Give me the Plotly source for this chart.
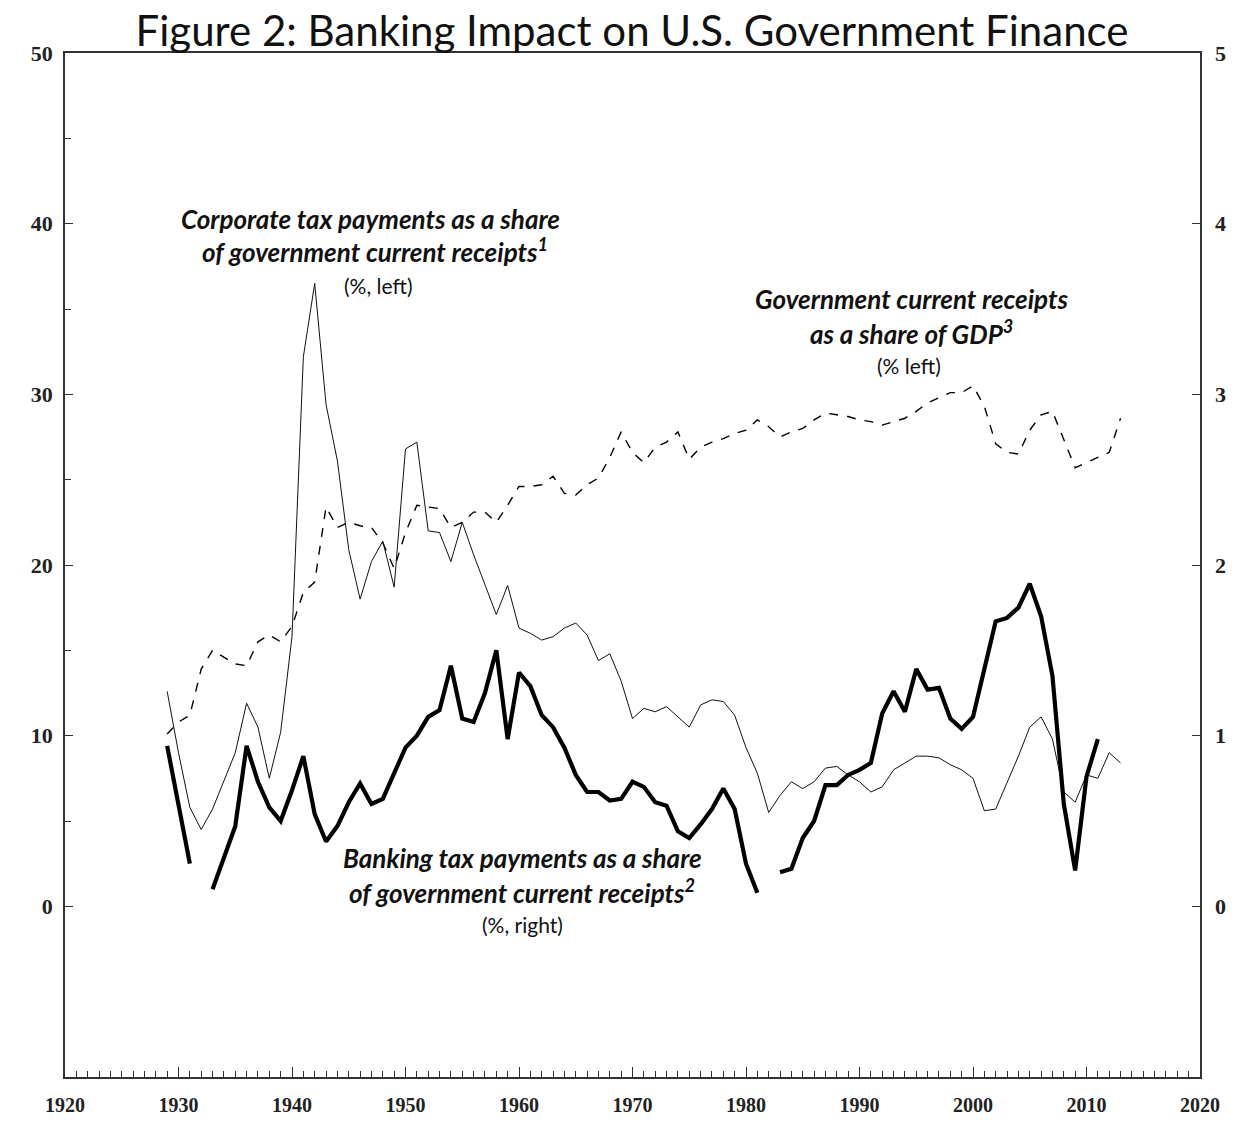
import plotly.graph_objects as go

years = list(range(1929, 2014))

corporate_tax_share = [
    12.6, 9.0, 5.8, 4.5, 5.7, 7.3, 9.0, 11.9, 10.5, 7.5,
    10.2, 15.8, 32.2, 36.5, 29.4, 26.1, 20.9, 18.0, 20.2, 21.4,
    18.7, 26.8, 27.2, 22.0, 21.9, 20.2, 22.5, 20.6, 18.9, 17.1,
    18.8, 16.3, 16.0, 15.6, 15.8, 16.3, 16.6, 15.9, 14.4, 14.8,
    13.2, 11.0, 11.6, 11.4, 11.7, 11.1, 10.5, 11.8, 12.1, 12.0,
    11.2, 9.3, 7.8, 5.5, 6.5, 7.3, 6.9, 7.3, 8.1, 8.2,
    7.7, 7.3, 6.7, 7.0, 8.0, 8.4, 8.8, 8.8, 8.7, 8.3,
    8.0, 7.5, 5.6, 5.7, 7.2, 8.8, 10.5, 11.1, 9.8, 6.7,
    6.1, 7.7, 7.5, 9.0, 8.4,
]

receipts_gdp = [
    10.1, 10.8, 11.2, 13.9, 15.0, 14.6, 14.2, 14.1, 15.5, 15.9,
    15.5, 16.4, 18.4, 19.0, 23.4, 22.2, 22.5, 22.3, 22.2, 21.3,
    19.8, 21.9, 23.5, 23.4, 23.3, 22.2, 22.5, 23.1, 23.1, 22.5,
    23.5, 24.6, 24.6, 24.7, 25.2, 24.2, 24.1, 24.7, 25.1, 26.3,
    27.8, 26.6, 26.0, 26.9, 27.2, 27.8, 26.2, 26.9, 27.2, 27.4,
    27.7, 27.9, 28.5, 28.1, 27.5, 27.8, 28.0, 28.5, 28.9, 28.8,
    28.7, 28.5, 28.4, 28.2, 28.4, 28.6, 29.0, 29.5, 29.8, 30.1,
    30.1, 30.5, 29.3, 27.1, 26.6, 26.5, 27.9, 28.8, 29.0, 27.4,
    25.7, 26.0, 26.3, 26.6, 28.6,
]

banking_tax_share = [
    0.94, 0.60, 0.25, None, 0.10, 0.29, 0.47, 0.94, 0.73, 0.58,
    0.50, 0.68, 0.88, 0.54, 0.38, 0.47, 0.61, 0.72, 0.60, 0.63,
    0.78, 0.93, 1.00, 1.11, 1.15, 1.41, 1.10, 1.08, 1.25, 1.50,
    0.98, 1.37, 1.29, 1.12, 1.05, 0.93, 0.77, 0.67, 0.67, 0.62,
    0.63, 0.73, 0.70, 0.61, 0.59, 0.44, 0.40, 0.48, 0.57, 0.69,
    0.57, 0.25, 0.08, None, 0.20, 0.22, 0.40, 0.50, 0.71, 0.71,
    0.77, 0.80, 0.84, 1.13, 1.26, 1.14, 1.39, 1.27, 1.28, 1.10,
    1.04, 1.11, 1.39, 1.67, 1.69, 1.75, 1.89, 1.70, 1.35, 0.60,
    0.21, 0.76, 0.98, None, None,
]

left_ticks = [0, 10, 20, 30, 40, 50]
left_minor_ticks = [5, 15, 25, 35, 45]
right_ticks = [0, 1, 2, 3, 4, 5]
x_ticks = list(range(1920, 2021, 10))

fig = go.Figure()

fig.add_trace(go.Scatter(
    x=years, y=receipts_gdp, mode="lines",
    line=dict(color="black", width=1.4, dash="dash"),
    name="Government current receipts as a share of GDP",
))
fig.add_trace(go.Scatter(
    x=years, y=corporate_tax_share, mode="lines",
    line=dict(color="#111", width=1.0),
    name="Corporate tax payments",
))
fig.add_trace(go.Scatter(
    x=years, y=banking_tax_share, mode="lines", yaxis="y2",
    line=dict(color="black", width=4.2),
    connectgaps=False,
    name="Banking tax payments",
))

tick_font = dict(family="Liberation Serif, DejaVu Serif, serif", size=22, color="#222", weight="bold")
xtick_font = dict(family="Liberation Serif, DejaVu Serif, serif", size=20, color="#222", weight="bold")

# page has an 8px body margin; figure size/margins compensate for it
W, H = 1223, 1108
fig.update_layout(
    width=W, height=H,
    margin=dict(l=57, r=31, t=45, b=39, autoexpand=False),
    paper_bgcolor="white", plot_bgcolor="white",
    showlegend=False,
    title=dict(
        text="Figure 2: Banking Impact on U.S. Government Finance",
        x=624 / W, xanchor="center", y=1 - 23 / H, yanchor="middle",
        font=dict(family="Lato, Open Sans, sans-serif", size=42, color="#111"),
    ),
    xaxis=dict(
        range=[1920, 2020], tickvals=x_ticks, ticks="inside", ticklen=10,
        tickwidth=1.2, tickcolor="#333", automargin=False,
        showline=True, linecolor="#333", linewidth=1.5, mirror=True,
        showgrid=False, zeroline=False, tickfont=xtick_font, ticklabelstandoff=9,
        minor=dict(dtick=1, ticks="inside", ticklen=6, tickwidth=1, tickcolor="#333", showgrid=False),
    ),
    yaxis=dict(
        range=[-10, 50], tickvals=left_ticks, ticks="inside", ticklen=8,
        tickwidth=1.2, tickcolor="#333", automargin=False,
        showline=True, linecolor="#333", linewidth=1.5, mirror=True,
        showgrid=False, zeroline=False, tickfont=tick_font, ticklabelstandoff=6,
        minor=dict(tickvals=left_minor_ticks, ticks="inside", ticklen=6, tickwidth=1,
                   tickcolor="#333", showgrid=False),
    ),
    yaxis2=dict(
        range=[-1, 5], tickvals=right_ticks, overlaying="y", side="right",
        ticks="inside", ticklen=8, tickwidth=1.2, tickcolor="#333", automargin=False,
        showline=False, showgrid=False, zeroline=False, tickfont=tick_font,
        ticklabelstandoff=14,
    ),
)

ann_bi = dict(family="Lato, Open Sans, sans-serif", size=26, color="#111", style="italic", weight="bold")
ann_r = dict(family="Lato, Open Sans, sans-serif", size=21, color="#111")

# (x year, y on left-axis scale, text, font)
annotations = [
    (1946.9, 40.3, "Corporate tax payments as a share", ann_bi),
    (1947.3, 38.4, "of government current receipts<sup>1</sup>", ann_bi),
    (1947.6, 36.4, "(%, left)", ann_r),
    (1994.6, 35.6, "Government current receipts", ann_bi),
    (1994.6, 33.6, "as a share of GDP<sup>3</sup>", ann_bi),
    (1994.4, 31.7, "(% left)", ann_r),
    (1960.3, 2.81, "Banking tax payments as a share", ann_bi),
    (1960.3, 0.88, "of government current receipts<sup>2</sup>", ann_bi),
    (1960.3, -1.05, "(%, right)", ann_r),
]
for x, y, t, f in annotations:
    fig.add_annotation(x=x, y=y, xref="x", yref="y", text=t, showarrow=False,
                       xanchor="center", yanchor="middle", font=f)

fig.write_html("out.html")
